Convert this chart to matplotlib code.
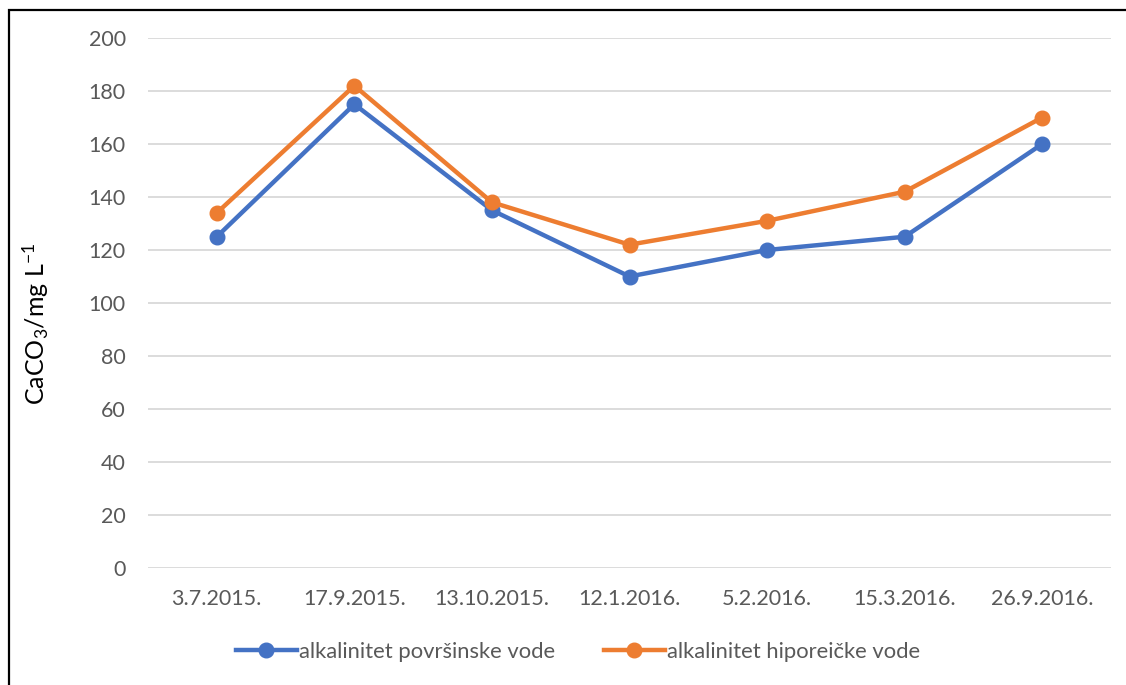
import matplotlib.pyplot as plt
import matplotlib.patches as patches
import numpy as np

dates = ['3.7.2015.', '17.9.2015.', '13.10.2015.', '12.1.2016.', '5.2.2016.', '15.3.2016.', '26.9.2016.']
povrsinska = [125, 175, 135, 110, 120, 125, 160]
hiporeicka = [134, 182, 138, 122, 131, 142, 170]
labels = ['alkalinitet površinske vode', 'alkalinitet hiporeičke vode']

plt.rcParams['font.family'] = ['Lato', 'DejaVu Sans']
plt.rcParams['mathtext.fontset'] = 'custom'
plt.rcParams['mathtext.rm'] = 'Lato'
plt.rcParams['mathtext.it'] = 'Lato:italic'

fig = plt.figure(figsize=(11.26, 6.85), dpi=100)
ax = fig.add_axes([148 / 1126, 117 / 685, 963 / 1126, 530 / 685])

x = np.arange(len(dates))
ax.plot(x, povrsinska, color='#4472C4', lw=3.2, marker='o', ms=10.5, label=labels[0], zorder=3)
ax.plot(x, hiporeicka, color='#ED7D31', lw=3.2, marker='o', ms=10.5, label=labels[1], zorder=3)

ax.set_xlim(-0.5, len(dates) - 0.5)
ax.set_ylim(0, 200)
ax.set_yticks(range(0, 201, 20))
ax.set_xticks(x)
ax.set_xticklabels(dates)
ax.yaxis.grid(True, color='#D9D9D9', lw=1.3)
ax.set_axisbelow(True)
for s in ax.spines.values():
    s.set_visible(False)
ax.tick_params(axis='both', length=0, colors='#595959', labelsize=15.5)
ax.tick_params(axis='x', pad=15)
ax.tick_params(axis='y', pad=16)

ax.set_ylabel(r'$\mathrm{CaCO_3/mg\ L^{-1}}$', fontsize=18, color='black')
ax.yaxis.set_label_coords(-0.101, 0.46)

fig.legend(loc='center', bbox_to_anchor=(578 / 1126, 1 - 652 / 685), ncol=2, frameon=False,
           fontsize=15.8, labelcolor='#595959', handlelength=2.8, handletextpad=0.1, columnspacing=2.2)

# chart frame (cut off at right and bottom)
fig.patches.append(patches.Rectangle((9 / 1126, -0.1), 1.2, 1.1 - 10 / 685, transform=fig.transFigure,
                                     fill=False, edgecolor='black', lw=1.6))

fig.savefig('out.png', dpi=100)
